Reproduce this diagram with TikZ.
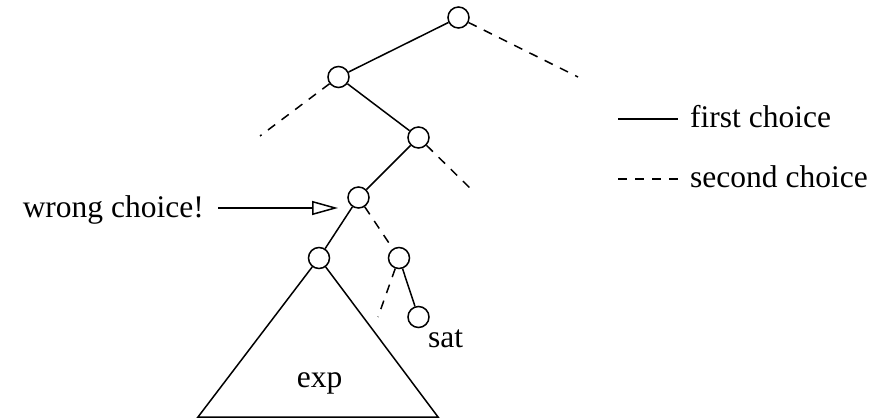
\documentclass[tikz,border=0pt]{standalone}
\usepackage{fontspec}
\setmainfont{Liberation Serif}
\usetikzlibrary{arrows.meta}
\begin{document}
\begin{tikzpicture}[x=1pt,y=-1pt,
  treenode/.style={circle,draw,line width=1.5pt,minimum size=21pt,inner sep=0pt},
  firstc/.style={line width=1.5pt},
  secondc/.style={line width=1.5pt,dash pattern=on 9pt off 8pt},
  lbl/.style={inner sep=0pt,font=\fontsize{31.5}{36}\selectfont}]
\useasboundingbox (0,0) rectangle (890,419);
% tree nodes
\node[treenode] (n1) at (458.5,17.5) {};
\node[treenode] (n2) at (338.5,77) {};
\node[treenode] (n3) at (418.5,137.5) {};
\node[treenode] (n4) at (358.5,197.5) {};
\node[treenode] (n5) at (319,258) {};
\node[treenode] (n6) at (399,258) {};
\node[treenode] (n7) at (418.5,317) {};
% free ends
\coordinate (e1) at (578,77);
\coordinate (e2) at (260,136);
\coordinate (e3) at (475,193);
\coordinate (e6) at (378,317);
\coordinate (bl) at (198,417);
\coordinate (br) at (438,417);
% first choices
\draw[firstc] (n1) -- (n2);
\draw[firstc] (n2) -- (n3);
\draw[firstc] (n3) -- (n4);
\draw[firstc] (n4) -- (n5);
\draw[firstc] (n6) -- (n7);
% second choices
\draw[secondc] (n1) -- (e1);
\draw[secondc] (n2) -- (e2);
\draw[secondc] (n3) -- (e3);
\draw[secondc] (n4) -- (n6);
\draw[secondc] (n6) -- (e6);
% subtree triangle
\draw[firstc,line join=miter] (n5) -- (bl) -- (br) -- (n5);
\node[lbl,anchor=base] (exp) at (319.5,387) {exp};
\node[lbl,anchor=base west] (sat) at (428,347) {sat};
% wrong choice arrow
\node[lbl,anchor=base east] (wrong) at (204,218) {wrong choice!};
\coordinate (arrs) at (218,208);
\coordinate (arre) at (338,208);
\draw[firstc,-{Triangle[open,length=26pt,width=14pt]}] (arrs) -- (arre);
% legend
\coordinate (l1a) at (618,119);
\coordinate (l1b) at (678,119);
\coordinate (l2a) at (618,179);
\coordinate (l2b) at (678,179);
\draw[firstc] (l1a) -- (l1b);
\draw[secondc] (l2a) -- (l2b);
\node[lbl,anchor=base west] (first) at (690,128) {first choice};
\node[lbl,anchor=base west] (second) at (690,188) {second choice};
\end{tikzpicture}
\end{document}
